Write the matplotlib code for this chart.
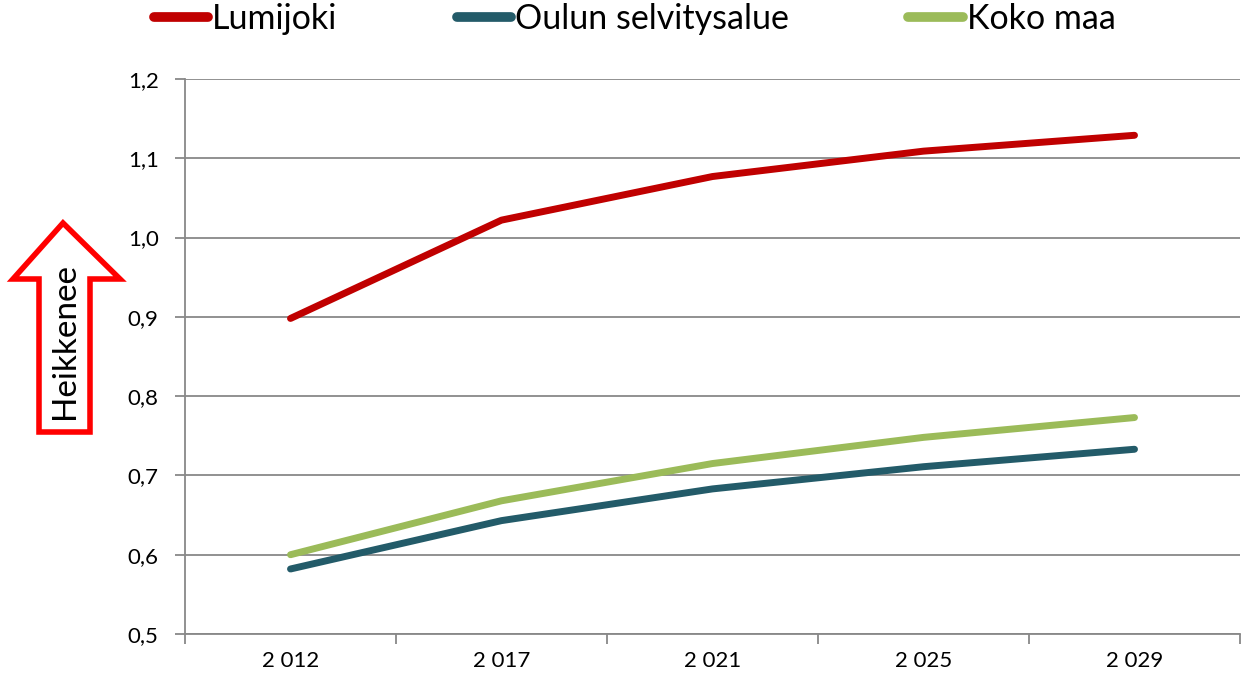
import matplotlib.pyplot as plt
from matplotlib.patches import Polygon
from matplotlib.lines import Line2D

vuodet = ['2 012', '2 017', '2 021', '2 025', '2 029']
lumijoki = [0.898, 1.022, 1.077, 1.109, 1.129]
oulu = [0.582, 0.643, 0.683, 0.711, 0.733]
koko_maa = [0.600, 0.668, 0.715, 0.748, 0.773]

sarjat = ['Lumijoki', 'Oulun selvitysalue', 'Koko maa']
varit = ['#C00000', '#235B69', '#9BBB59']

plt.rcParams['font.family'] = ['Lato', 'DejaVu Sans']
harmaa = '#888888'

fig = plt.figure(figsize=(12.43, 6.83), dpi=100)
ax = fig.add_axes([185 / 1243, 1 - 634 / 683, 1055 / 1243, 555 / 683])

x = range(len(vuodet))
for arvot, vari in zip([lumijoki, oulu, koko_maa], varit):
    ax.plot(x, arvot, color=vari, linewidth=5, solid_capstyle='round')

ax.set_xlim(-0.5, len(vuodet) - 0.5)
ax.set_ylim(0.5, 1.2)

# y-akseli ja ruudukko
yt = [0.5, 0.6, 0.7, 0.8, 0.9, 1.0, 1.1, 1.2]
ax.set_yticks(yt)
ax.set_yticklabels([f'{v:.1f}'.replace('.', ',') for v in yt], fontsize=16)
ax.yaxis.grid(True, color=harmaa, linewidth=1.3)
ax.set_axisbelow(True)

# x-akseli: viivat luokkien väliin, nimet keskelle
ax.set_xticks([i - 0.5 for i in range(len(vuodet) + 1)])
ax.set_xticklabels([])
ax.set_xticks(list(x), minor=True)
ax.set_xticklabels(vuodet, minor=True, fontsize=16)
ax.tick_params(axis='x', which='minor', length=0, pad=12)
ax.tick_params(axis='both', which='major', color=harmaa, width=1.3, length=7)
ax.tick_params(axis='y', pad=12)

for s in ['top', 'right']:
    ax.spines[s].set_visible(False)
for s in ['left', 'bottom']:
    ax.spines[s].set_color(harmaa)
    ax.spines[s].set_linewidth(1.3)

# selite
kahvat = [Line2D([0], [0], color=c, linewidth=7, solid_capstyle='round') for c in varit]
fig.legend(kahvat, sarjat, loc='upper left', bbox_to_anchor=(123 / 1243, 1.04),
           ncol=3, frameon=False, handlelength=1.6, handletextpad=0.12,
           columnspacing=3.5, prop={'size': 24.5})

# "Heikkenee" nuoli
px = [(63, 223), (120, 279), (90, 279), (90, 432), (39, 432), (39, 279), (13, 279)]
nuoli = Polygon([(a / 1243, 1 - b / 683) for a, b in px], closed=True,
                transform=fig.transFigure, facecolor='white', edgecolor='#FF0000',
                linewidth=4, joinstyle='miter')
fig.patches.append(nuoli)
fig.text(65 / 1243, 1 - 341 / 683, 'Heikkenee', rotation=90, ha='center', va='center',
         fontsize=24)

fig.savefig('out.png', dpi=100)
